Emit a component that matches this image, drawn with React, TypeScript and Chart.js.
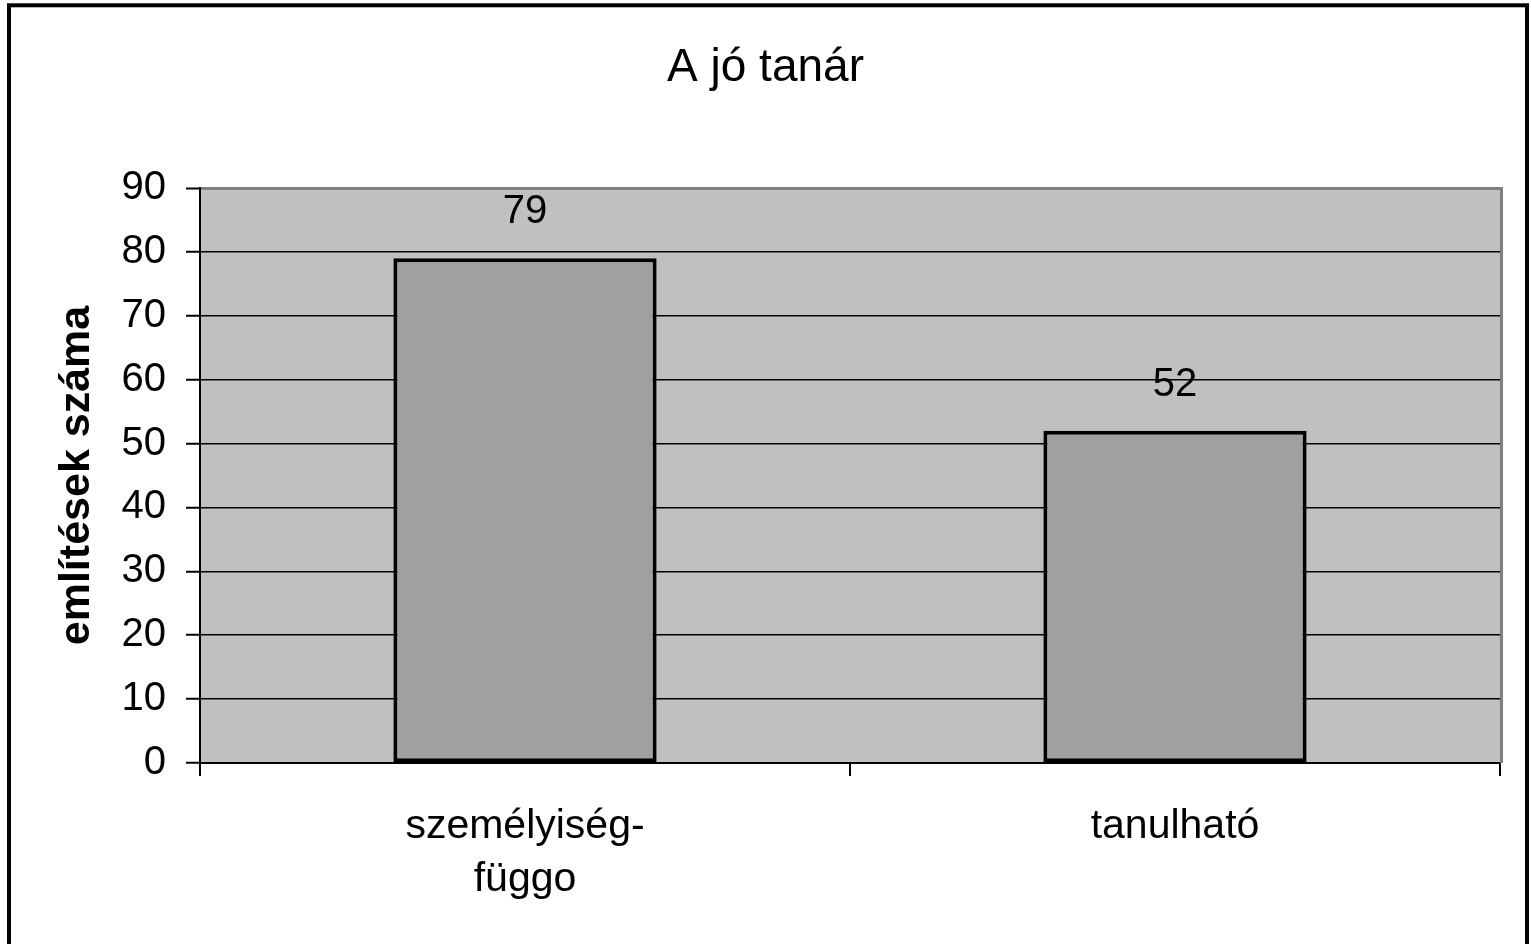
import React, { useEffect, useRef } from "react";
import { Chart, registerables } from "chart.js";

Chart.register(...registerables);

const titleText = "A jó tanár";
const yAxisTitle = "említések száma";
const categories: (string | string[])[] = [["személyiség-", "függo"], "tanulható"];
const values: number[] = [79, 52];
const yMin = 0;
const yMax = 90;
const yStep = 10;

const FONT = "'Liberation Sans', Arial, sans-serif";

const framePlugin = {
  id: "framePlugin",
  beforeDraw(chart: any) {
    const { ctx, chartArea } = chart;
    ctx.save();
    ctx.fillStyle = "#ffffff";
    ctx.fillRect(0, 0, chart.width, chart.height);
    ctx.fillStyle = "#C0C0C0";
    ctx.fillRect(chartArea.left, chartArea.top, chartArea.right - chartArea.left, chartArea.bottom - chartArea.top);
    ctx.restore();
  },
  beforeDatasetsDraw(chart: any) {
    const { ctx, chartArea } = chart;
    ctx.save();
    ctx.strokeStyle = "#808080";
    ctx.lineWidth = 3;
    ctx.beginPath();
    ctx.moveTo(chartArea.right + 1.5, chartArea.top - 1);
    ctx.lineTo(chartArea.right + 1.5, chartArea.bottom);
    ctx.stroke();
    ctx.restore();
  },
  afterDatasetsDraw(chart: any) {
    const { ctx } = chart;
    const meta = chart.getDatasetMeta(0);
    ctx.save();
    ctx.fillStyle = "#000";
    ctx.font = `40px ${FONT}`;
    ctx.textAlign = "center";
    ctx.textBaseline = "middle";
    meta.data.forEach((bar: any, i: number) => {
      ctx.fillText(String(values[i]), bar.x, bar.y - 46);
    });
    ctx.restore();
  },
  afterDraw(chart: any) {
    const { ctx } = chart;
    ctx.save();
    ctx.strokeStyle = "#000";
    ctx.lineWidth = 4;
    ctx.strokeRect(9, 5.3, 1518, 960);
    ctx.restore();
  },
};

export default function App() {
  const ref = useRef<HTMLCanvasElement>(null);
  useEffect(() => {
    document.body.style.margin = "0";
    const canvas = ref.current!;
    const chart = new Chart(canvas, {
      type: "bar",
      data: {
        labels: categories,
        datasets: [
          {
            data: values,
            backgroundColor: "#A0A0A0",
            borderColor: "#000000",
            borderWidth: 4,
            borderSkipped: false,
            barPercentage: 0.405,
            categoryPercentage: 1,
          },
        ],
      },
      options: {
        animation: false,
        responsive: false,
        devicePixelRatio: 1,
        layout: { padding: 0 },
        plugins: {
          legend: { display: false },
          tooltip: { enabled: false },
          title: {
            display: true,
            text: titleText,
            color: "#000",
            font: { family: FONT, size: 46, weight: "normal", lineHeight: 1.2 },
            padding: { top: 41, bottom: 91.8 },
          },
        },
        scales: {
          x: {
            offset: true,
            afterFit: (scale: any) => {
              scale.height = 181;
            },
            grid: {
              display: true,
              drawOnChartArea: false,
              drawTicks: true,
              tickLength: 13,
              tickColor: "#000",
              tickWidth: 2,
              color: "#000",
              lineWidth: 2,
              offset: true,
            },
            border: { display: true, color: "#000", width: 2 },
            ticks: {
              color: "#000",
              padding: 24,
              maxRotation: 0,
              autoSkip: false,
              font: { family: FONT, size: 41, lineHeight: 1.3 },
            },
          },
          y: {
            min: yMin,
            max: yMax,
            afterFit: (scale: any) => {
              scale.width = 200;
            },
            grid: {
              color: (c: any) => (c.tick && c.tick.value === yMax ? "#808080" : "#000"),
              lineWidth: (c: any) => (c.tick && c.tick.value === yMax ? 3 : 1.5),
              tickColor: "#000",
              tickWidth: 2,
              tickLength: 14,
              drawTicks: true,
            },
            border: { display: true, color: "#000", width: 2 },
            ticks: {
              stepSize: yStep,
              color: "#000",
              padding: 20,
              font: { family: FONT, size: 40 },
            },
            title: {
              display: true,
              text: yAxisTitle,
              color: "#000",
              font: { family: FONT, size: 43, weight: "bold", lineHeight: 1.2 },
              padding: { top: 51, bottom: 0 },
            },
          },
          yRightSpacer: {
            type: "linear",
            position: "right",
            display: true,
            min: yMin,
            max: yMax,
            afterFit: (scale: any) => {
              scale.width = 31;
            },
            grid: { display: false, drawOnChartArea: false, drawTicks: false },
            border: { display: false },
            ticks: { display: false },
          },
        },
      },
      plugins: [framePlugin],
    } as any);
    return () => chart.destroy();
  }, []);
  return (
    <div style={{ width: 1531, height: 944, overflow: "hidden" }}>
      <canvas ref={ref} width={1531} height={944} style={{ display: "block" }} />
    </div>
  );
}
